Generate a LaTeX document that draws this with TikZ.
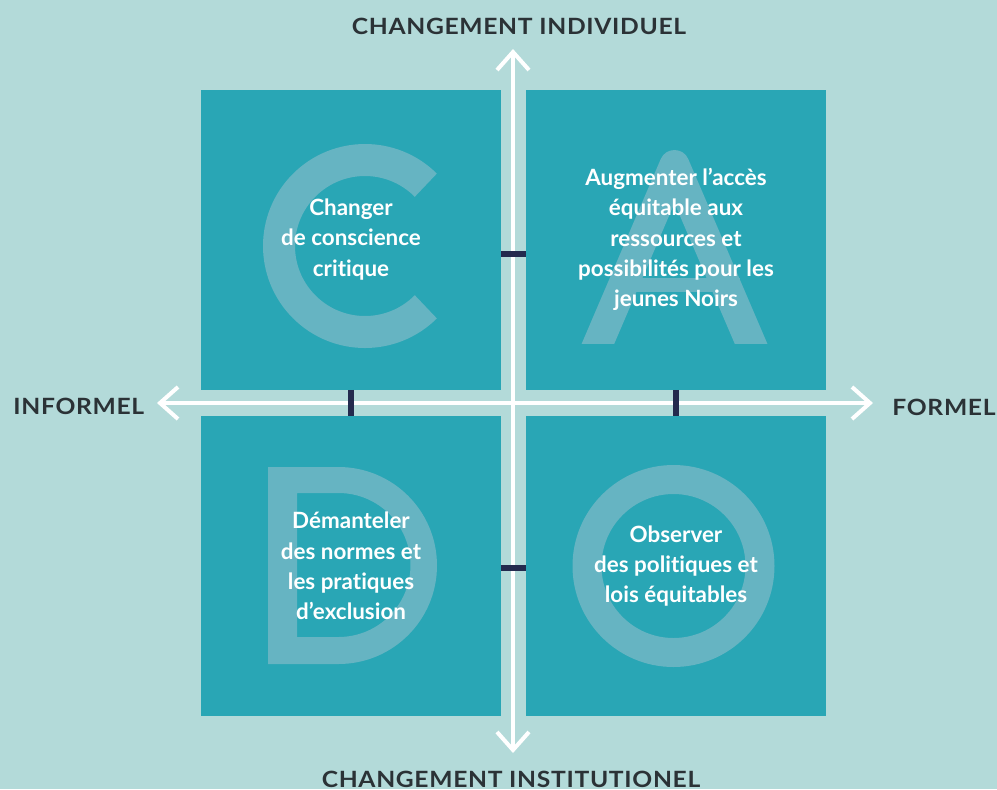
\documentclass[tikz,border=0pt]{standalone}
\usepackage{fontspec}
\setmainfont{Lato}[Ligatures=NoCommon]
\newfontfamily\axisfont{Lato}[Ligatures=NoCommon,FakeStretch=1.1,LetterSpace=3]
\usetikzlibrary{arrows.meta}
\definecolor{fond}{HTML}{B3DAD9}
\definecolor{carre}{HTML}{29A6B5}
\definecolor{lettre}{HTML}{66B4C2}
\definecolor{repere}{HTML}{232A4E}
\definecolor{titre}{HTML}{2B3236}

\begin{document}
\begin{tikzpicture}[x=.5pt,y=-.5pt,
    quad/.style={fill=carre,minimum size=150pt,inner sep=0pt},
    quadtext/.style={text=white,align=center,font=\bfseries\fontsize{11.2}{15.2}\selectfont},
    axislabel/.style={text=titre,inner sep=0pt,font=\axisfont\bfseries\fontsize{11.2}{13}\selectfont},
    axis/.style={white,line width=2pt,
      {Straight Barb[length=9pt,width=16pt]}-{Straight Barb[length=9pt,width=16pt]}},
    marker/.style={repere,line width=3pt},
    letter/.style={lettre,line width=16pt}]
  \fill[fond] (0,0) rectangle (997,789);
  \useasboundingbox (0,0) rectangle (997,789);

  \node[quad] (c) at (351,239.5) {};
  \node[quad] (a) at (676,239.5) {};
  \node[quad] (d) at (351,566) {};
  \node[quad] (o) at (676,566) {};

  \draw[letter] (365,246) ++(45:86) arc (45:315:86);
  \begin{scope}
    \clip (560,140) rectangle (790,343);
    \draw[letter,line width=15pt,line join=round] (591,360) -- (674.5,165) -- (758,360);
    \draw[letter,line width=7pt] (610,285) -- (740,285);
  \end{scope}
  \fill[lettre,even odd rule] (268,467) -- (338.5,467) arc (-90:90:98.5) -- (268,664) -- cycle
    (297,493) -- (338.5,493) arc (-90:90:72) -- (297,637) -- cycle;
  \draw[letter,line width=14.5pt] (673.5,566) circle [radius=86.5];

  \node[quadtext] (ct) at (c) {Changer\\de conscience\\critique};
  \node[quadtext] (at) at (a) {Augmenter l’accès\\équitable aux\\ressources et\\possibilités pour les\\jeunes Noirs};
  \node[quadtext] (dt) at (d) {Démanteler\\des normes et\\les pratiques\\d’exclusion};
  \node[quadtext] (ot) at (o) {Observer\\des politiques et\\lois équitables};

  \coordinate (n) at (513,49);
  \coordinate (s) at (513,753);
  \coordinate (w) at (157,403);
  \coordinate (e) at (873,403);
  \draw[axis] (s) -- (n);
  \draw[axis] (w) -- (e);

  \draw[marker] (c.south) -- (d.north);
  \draw[marker] (a.south) -- (o.north);
  \draw[marker] ([yshift=-7pt]c.east) -- ([yshift=-7pt]a.west);
  \draw[marker] ([yshift=-.75pt]d.east) -- ([yshift=-.75pt]o.west);

  \node[axislabel,anchor=base] (ind) at (519,34) {CHANGEMENT INDIVIDUEL};
  \node[axislabel,anchor=base] (inst) at (511,787) {CHANGEMENT INSTITUTIONEL};
  \node[axislabel,anchor=base west] (inf) at (13,414) {INFORMEL};
  \node[axislabel,anchor=base east] (for) at (996,415) {FORMEL};
\end{tikzpicture}
\end{document}
